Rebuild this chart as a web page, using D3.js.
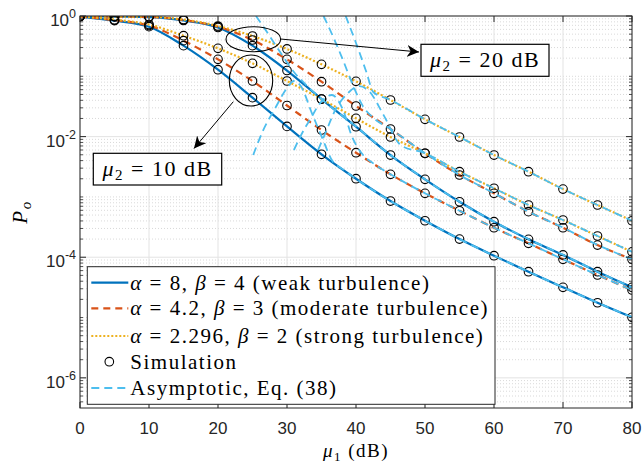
<!DOCTYPE html>
<html>
<head>
<meta charset="utf-8">
<script src="https://cdn.jsdelivr.net/npm/d3@7"></script>
<style>
body { margin: 0; background: #fff; }
svg text { font-family: "Liberation Sans", Arial, sans-serif; fill: #262626; }
svg text.tex { font-family: "Liberation Serif", "Times New Roman", serif; fill: #000; letter-spacing: 1.5px; }
</style>
</head>
<body>
<svg width="642" height="463"></svg>
<script>
// mu_1 in dB, same grid for analysis and simulation
var mu1 = [0, 5, 10, 15, 20, 25, 30, 35, 40, 45, 50, 55, 60, 65, 70, 75, 80];

// outage probability, mu_2 = 20 dB
var weak20 = [0.99, 0.975, 0.96, 0.842, 0.645, 0.322, 0.1248, 0.042, 0.01459, 0.00495, 0.001959, 0.000832, 0.000388, 0.000198, 0.000109, 0.0000575, 0.0000317];
var moderate20 = [0.99, 0.978, 0.965, 0.858, 0.665, 0.400, 0.191, 0.0814, 0.0322, 0.01337, 0.00529, 0.00231, 0.001148, 0.000569, 0.000308, 0.000159, 0.0000923];
var strong20 = [0.995, 0.98, 0.97, 0.875, 0.683, 0.466, 0.284, 0.158, 0.0826, 0.0405, 0.01936, 0.00985, 0.00495, 0.00262, 0.00135, 0.000734, 0.000403];

// outage probability, mu_2 = 10 dB
var weak10 = [0.98, 0.836, 0.665, 0.322, 0.1287, 0.0442, 0.01476, 0.00509, 0.002004, 0.000855, 0.000403, 0.000200, 0.000106, 0.0000575, 0.0000317, 0.0000176, 0.0000101];
var moderate10 = [0.98, 0.85, 0.696, 0.390, 0.191, 0.0836, 0.0328, 0.01287, 0.00541, 0.00237, 0.001148, 0.000590, 0.000308, 0.000170, 0.0000923, 0.0000507, 0.0000286];
var strong10 = [0.985, 0.87, 0.723, 0.471, 0.291, 0.164, 0.0836, 0.042, 0.0201, 0.00985, 0.00529, 0.00262, 0.00139, 0.000734, 0.000414, 0.000225, 0.000123];

// asymptotic curves, Eq. (38) (light blue dashed)
var asymXWeak20 = [25.5, 27, 29, 31, 33, 35, 40, 45, 50, 55, 60, 65, 70, 75, 80];
var asymWeak20 = [1.0, 0.564, 0.253, 0.118, 0.068, 0.042, 0.0147, 0.00495, 0.00196, 0.00083, 0.00039, 0.0002, 0.00011, 0.0000575, 0.0000317];
var asymXModerate20 = [35.3, 36.7, 38, 39.5, 41, 42.5, 45, 50, 55, 60, 65, 70, 75, 80];
var asymModerate20 = [1.0, 0.449, 0.2, 0.074, 0.032, 0.0205, 0.0134, 0.0053, 0.00232, 0.00115, 0.00057, 0.00031, 0.00016, 0.0000925];
var asymXStrong20 = [38.5, 40, 41.5, 42.5, 45, 50, 55, 60, 65, 70, 75, 80];
var asymStrong20 = [1.0, 0.357, 0.118, 0.055, 0.0405, 0.0194, 0.00985, 0.00495, 0.00262, 0.00135, 0.000734, 0.000403];
var asymXWeak10 = [25.1, 26.5, 28.3, 30, 31, 32, 33.6, 35, 36.5, 38, 40, 45, 50, 55, 60, 65, 70, 75, 80];
var asymWeak10 = [0.00496, 0.0124, 0.0298, 0.064, 0.0836, 0.069, 0.0246, 0.0102, 0.00409, 0.00292, 0.002, 0.000855, 0.000403, 0.0002, 0.000106, 0.0000575, 0.0000317, 0.0000176, 0.0000101];
var asymXModerate10 = [31, 32.6, 33.3, 34.8, 36.5, 38, 39.5, 41, 42.5, 45, 50, 55, 60, 65, 70, 75, 80];
var asymModerate10 = [0.006, 0.0139, 0.0188, 0.036, 0.049, 0.0297, 0.0095, 0.005, 0.0036, 0.00237, 0.00115, 0.00059, 0.000308, 0.00017, 0.0000923, 0.0000507, 0.0000286];
var asymXStrong10 = [34.5, 35.5, 37, 39, 40.5, 42, 44, 46.5, 50, 55, 60, 65, 70, 75, 80];
var asymStrong10 = [0.006, 0.011, 0.0276, 0.055, 0.069, 0.055, 0.0227, 0.0072, 0.0053, 0.00262, 0.00139, 0.000734, 0.000414, 0.000225, 0.000123];

var xTicks = [0, 10, 20, 30, 40, 50, 60, 70, 80];
var yTickExp = [0, -2, -4, -6];
var legendLabels = [
  ["\u03b1", " = 8, ", "\u03b2", " = 4 (weak turbulence)"],
  ["\u03b1", " = 4.2, ", "\u03b2", " = 3 (moderate turbulence)"],
  ["\u03b1", " = 2.296, ", "\u03b2", " = 2 (strong turbulence)"]
];

var blue = "#0072BD", orange = "#D95319", yellow = "#EDB120", cyan = "#4DBEEE";

var svg = d3.select("svg"),
    margin = {top: 16, right: 10, bottom: 55, left: 80},
    width = 642 - margin.left - margin.right,
    height = 463 - margin.top - margin.bottom;

var x = d3.scaleLinear().domain([0, 80]).range([0, width]),
    y = d3.scaleLog().domain([Math.pow(10, -6.5), 1]).range([height, 0]);

var g = svg.append("g").attr("transform", "translate(" + margin.left + "," + margin.top + ")");

svg.append("defs").append("clipPath").attr("id", "clip")
  .append("rect").attr("width", width).attr("height", height);

// grid: minor (dotted) on every 1..9 x 10^k, major (solid) on labelled decades and x ticks
var minor = [];
for (var k = -7; k <= 0; k++) {
  for (var m = 1; m <= 9; m++) {
    var v = m * Math.pow(10, k);
    if (v >= y.domain()[0] && v <= 1 && !(m == 1 && k % 2 == 0)) minor.push(v);
  }
}
g.selectAll(".minor").data(minor).enter().append("line")
  .attr("x1", 0).attr("x2", width)
  .attr("y1", function(d) { return y(d); }).attr("y2", function(d) { return y(d); })
  .attr("stroke", "#cfcfcf").attr("stroke-width", 0.8).attr("stroke-dasharray", "1,2");
g.selectAll(".gx").data(xTicks).enter().append("line")
  .attr("x1", function(d) { return x(d); }).attr("x2", function(d) { return x(d); })
  .attr("y1", 0).attr("y2", height)
  .attr("stroke", "#e3e3e3").attr("stroke-width", 1);
g.selectAll(".gy").data(yTickExp).enter().append("line")
  .attr("x1", 0).attr("x2", width)
  .attr("y1", function(d) { return y(Math.pow(10, d)); }).attr("y2", function(d) { return y(Math.pow(10, d)); })
  .attr("stroke", "#e3e3e3").attr("stroke-width", 1);

// curves
var plot = g.append("g").attr("clip-path", "url(#clip)");
var line = d3.line()
  .x(function(d) { return x(d[0]); })
  .y(function(d) { return y(d[1]); })
  .curve(d3.curveMonotoneX);

var series = [
  {v: weak20, c: blue, dash: null},
  {v: weak10, c: blue, dash: null},
  {v: moderate20, c: orange, dash: "7,5"},
  {v: moderate10, c: orange, dash: "7,5"},
  {v: strong20, c: yellow, dash: "2,2"},
  {v: strong10, c: yellow, dash: "2,2"}
];
series.forEach(function(s) {
  plot.append("path")
    .datum(d3.zip(mu1, s.v))
    .attr("fill", "none").attr("stroke", s.c).attr("stroke-width", 2.2)
    .attr("stroke-dasharray", s.dash)
    .attr("d", line);
});

// simulation markers
series.forEach(function(s) {
  plot.selectAll(null).data(d3.zip(mu1, s.v)).enter().append("circle")
    .attr("cx", function(d) { return x(d[0]); })
    .attr("cy", function(d) { return y(d[1]); })
    .attr("r", 4.3)
    .attr("fill", "none").attr("stroke", "#000").attr("stroke-width", 1.1);
});

// asymptotic lines, drawn last as in the legend
var asymSets = [
  [asymXWeak20, asymWeak20], [asymXModerate20, asymModerate20], [asymXStrong20, asymStrong20],
  [asymXWeak10, asymWeak10], [asymXModerate10, asymModerate10], [asymXStrong10, asymStrong10]
];
asymSets.forEach(function(s) {
  plot.append("path")
    .datum(d3.zip(s[0], s[1]))
    .attr("fill", "none").attr("stroke", cyan).attr("stroke-width", 1.8)
    .attr("stroke-dasharray", "8,5")
    .attr("d", line);
});

// axes box and ticks
g.append("rect").attr("width", width).attr("height", height)
  .attr("fill", "none").attr("stroke", "#262626").attr("stroke-width", 1);

[0, width].forEach(function(px) {
  var dir = px == 0 ? 1 : -1;
  g.selectAll(null).data(minor).enter().append("line")
    .attr("x1", px).attr("x2", px + dir * 3)
    .attr("y1", function(d) { return y(d); }).attr("y2", function(d) { return y(d); })
    .attr("stroke", "#262626").attr("stroke-width", 0.8);
  g.selectAll(null).data(yTickExp).enter().append("line")
    .attr("x1", px).attr("x2", px + dir * 6)
    .attr("y1", function(d) { return y(Math.pow(10, d)); }).attr("y2", function(d) { return y(Math.pow(10, d)); })
    .attr("stroke", "#262626").attr("stroke-width", 1);
});
[0, height].forEach(function(py) {
  var dir = py == 0 ? 1 : -1;
  g.selectAll(null).data(xTicks).enter().append("line")
    .attr("x1", function(d) { return x(d); }).attr("x2", function(d) { return x(d); })
    .attr("y1", py).attr("y2", py + dir * 6)
    .attr("stroke", "#262626").attr("stroke-width", 1);
});

g.selectAll(".xl").data(xTicks).enter().append("text")
  .attr("x", function(d) { return x(d); }).attr("y", height + 26)
  .attr("text-anchor", "middle").attr("font-size", 17)
  .text(function(d) { return d; });

var yl = g.selectAll(".yl").data(yTickExp).enter().append("text")
  .attr("x", -4).attr("y", function(d) { return y(Math.pow(10, d)) + 10; })
  .attr("text-anchor", "end").attr("font-size", 17);
yl.append("tspan").text("10");
yl.append("tspan").attr("font-size", 12.5).attr("dy", -8).text(function(d) { return d == 0 ? "0" : "-" + (-d); });

// axis labels
var xlab = svg.append("text").attr("class", "tex")
  .attr("x", margin.left + width / 2).attr("y", 457)
  .attr("text-anchor", "middle").attr("font-size", 19);
xlab.append("tspan").attr("font-style", "italic").text("\u03bc");
xlab.append("tspan").attr("font-size", 13).attr("dy", 4).text("1");
xlab.append("tspan").attr("dy", -4).text(" (dB)");

var ylab = svg.append("text").attr("class", "tex")
  .attr("transform", "translate(27," + (margin.top + height / 2) + ") rotate(-90)")
  .attr("text-anchor", "middle").attr("font-size", 21);
ylab.append("tspan").attr("font-style", "italic").text("P");
ylab.append("tspan").attr("font-style", "italic").attr("font-size", 15).attr("dy", 4).text("o");

// annotations: ellipses, arrows, boxes
svg.append("defs").append("marker").attr("id", "arr")
  .attr("viewBox", "0 0 10 10").attr("refX", 10).attr("refY", 5)
  .attr("markerWidth", 12).attr("markerHeight", 12).attr("markerUnits", "userSpaceOnUse")
  .attr("orient", "auto")
  .append("path").attr("d", "M0,0 L10,5 L0,10 L3,5 Z").attr("fill", "#000");

svg.append("ellipse").attr("cx", 253.3).attr("cy", 39.2).attr("rx", 27.3).attr("ry", 12.5)
  .attr("fill", "none").attr("stroke", "#000").attr("stroke-width", 1.1);
svg.append("ellipse").attr("cx", 251).attr("cy", 80.5).attr("rx", 21.7).attr("ry", 25.5)
  .attr("fill", "none").attr("stroke", "#000").attr("stroke-width", 1.1);
svg.append("line").attr("x1", 280.5).attr("y1", 39).attr("x2", 419).attr("y2", 52)
  .attr("stroke", "#000").attr("stroke-width", 1).attr("marker-end", "url(#arr)");
svg.append("line").attr("x1", 233.3).attr("y1", 101.7).attr("x2", 194).attr("y2", 148.5)
  .attr("stroke", "#000").attr("stroke-width", 1).attr("marker-end", "url(#arr)");

function muBox(bx, by, bw, bh, val) {
  svg.append("rect").attr("x", bx).attr("y", by).attr("width", bw).attr("height", bh)
    .attr("fill", "#fff").attr("stroke", "#000").attr("stroke-width", 1.2);
  var t = svg.append("text").attr("class", "tex")
    .attr("x", bx + bw / 2).attr("y", by + bh / 2 + 7)
    .attr("text-anchor", "middle").attr("font-size", 22);
  t.append("tspan").attr("font-style", "italic").text("\u03bc");
  t.append("tspan").attr("font-size", 15).attr("dy", 4).text("2");
  t.append("tspan").attr("dy", -4).text(" = " + val + " dB");
}
muBox(421, 44.3, 128, 32, 20);
muBox(93.3, 153.3, 128.4, 31.7, 10);

// legend
var lg = svg.append("g").attr("transform", "translate(87.3,266.7)");
lg.append("rect").attr("width", 407.7).attr("height", 137.6)
  .attr("fill", "#fff").attr("stroke", "#262626").attr("stroke-width", 1);
var rowY = [16, 41.6, 69.3, 95, 121.3];
var legItems = [
  {c: blue, dash: null}, {c: orange, dash: "7,5"}, {c: yellow, dash: "2,2"}
];
legItems.forEach(function(it, i) {
  lg.append("line").attr("x1", 4).attr("x2", 41).attr("y1", rowY[i]).attr("y2", rowY[i])
    .attr("stroke", it.c).attr("stroke-width", 2.2).attr("stroke-dasharray", it.dash);
  var t = lg.append("text").attr("class", "tex").attr("x", 43).attr("y", rowY[i] + 7).attr("font-size", 21);
  legendLabels[i].forEach(function(p, j) {
    t.append("tspan").attr("font-style", j % 2 == 0 ? "italic" : "normal").text(p);
  });
});
lg.append("circle").attr("cx", 22).attr("cy", rowY[3]).attr("r", 4.3)
  .attr("fill", "none").attr("stroke", "#000").attr("stroke-width", 1.1);
lg.append("text").attr("class", "tex").attr("x", 43).attr("y", rowY[3] + 7).attr("font-size", 21).text("Simulation");
lg.append("line").attr("x1", 4).attr("x2", 41).attr("y1", rowY[4]).attr("y2", rowY[4])
  .attr("stroke", cyan).attr("stroke-width", 1.8).attr("stroke-dasharray", "8,5");
lg.append("text").attr("class", "tex").attr("x", 43).attr("y", rowY[4] + 7).attr("font-size", 21).text("Asymptotic, Eq. (38)");
</script>
</body>
</html>
